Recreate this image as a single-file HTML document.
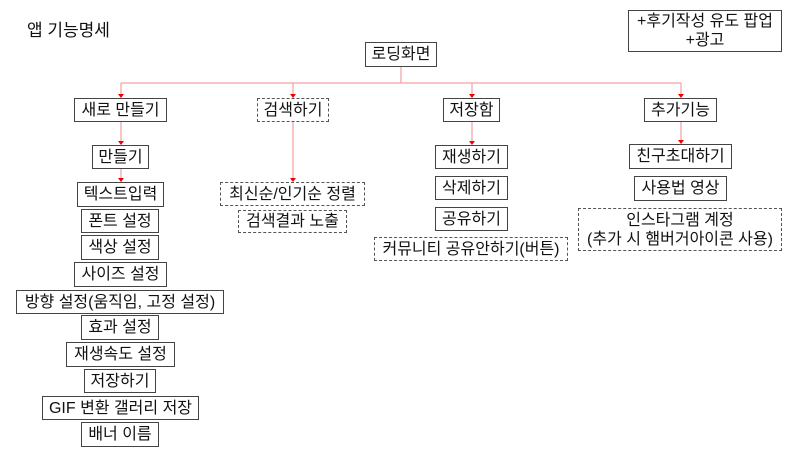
<!DOCTYPE html>
<html><head><meta charset="utf-8"><style>
body{margin:0;width:800px;height:450px;background:#fff;position:relative;overflow:hidden;font-family:"Liberation Sans","Noto Sans CJK KR",sans-serif;color:#111}
.b{position:absolute;box-sizing:border-box;border:1.3px solid #444;display:flex;align-items:center;justify-content:center;text-align:center;font-size:16px;line-height:19px;white-space:nowrap;background:#fff}
.d{border:1.3px dashed #555}
svg{position:absolute;left:0;top:0}
</style></head><body>
<div style="position:absolute;left:27px;top:16px;font-size:17px">앱 기능명세</div>
<svg width="800" height="450">
<g stroke="#f4a0a0" stroke-width="1.2" fill="none">
<path d="M401 67V83M121 83H681M121 83V96M293 83V96M472 83V96M681 83V96M121 122V143M121 169V180M293 122V180M472 122V143M681 122V142"/>
</g>
<g fill="#e00">
<path d="M118 94h6l-3 4z M290 94h6l-3 4z M469 94h6l-3 4z M678 94h6l-3 4z M118 141h6l-3 4z M118 178h6l-3 4z M290 178h6l-3 4z M469 141h6l-3 4z M678 140h6l-3 4z"/>
</g>
</svg>
<div class="b" style="left:365px;top:42px;width:72px;height:25px">로딩화면</div>
<div class="b" style="left:628px;top:10px;width:154px;height:42px">+후기작성 유도 팝업<br>+광고</div>
<div class="b" style="left:74px;top:98px;width:93px;height:24px">새로 만들기</div>
<div class="b d" style="left:257px;top:98px;width:72px;height:24px">검색하기</div>
<div class="b" style="left:443px;top:98px;width:57px;height:24px">저장함</div>
<div class="b" style="left:644px;top:98px;width:73px;height:24px">추가기능</div>
<div class="b" style="left:92px;top:145px;width:57px;height:24px">만들기</div>
<div class="b" style="left:77px;top:182px;width:87px;height:25px">텍스트입력</div>
<div class="b" style="left:81px;top:209px;width:78px;height:24px">폰트 설정</div>
<div class="b" style="left:81px;top:235px;width:78px;height:25px">색상 설정</div>
<div class="b" style="left:74px;top:262px;width:93px;height:25px">사이즈 설정</div>
<div class="b" style="left:16px;top:290px;width:208px;height:24px">방향 설정(움직임, 고정 설정)</div>
<div class="b" style="left:81px;top:315px;width:78px;height:25px">효과 설정</div>
<div class="b" style="left:66px;top:342px;width:109px;height:25px">재생속도 설정</div>
<div class="b" style="left:84px;top:369px;width:72px;height:24px">저장하기</div>
<div class="b" style="left:42px;top:396px;width:157px;height:24px">GIF 변환 갤러리 저장</div>
<div class="b" style="left:81px;top:422px;width:78px;height:25px">배너 이름</div>
<div class="b d" style="left:220px;top:182px;width:145px;height:24px">최신순/인기순 정렬</div>
<div class="b d" style="left:238px;top:210px;width:109px;height:23px">검색결과 노출</div>
<div class="b" style="left:435px;top:145px;width:73px;height:24px">재생하기</div>
<div class="b" style="left:435px;top:176px;width:73px;height:24px">삭제하기</div>
<div class="b" style="left:435px;top:207px;width:73px;height:24px">공유하기</div>
<div class="b d" style="left:374px;top:237px;width:194px;height:24px">커뮤니티 공유안하기(버튼)</div>
<div class="b" style="left:629px;top:144px;width:103px;height:25px">친구초대하기</div>
<div class="b" style="left:634px;top:176px;width:93px;height:25px">사용법 영상</div>
<div class="b d" style="left:578px;top:208px;width:204px;height:43px">인스타그램 계정<br>(추가 시 햄버거아이콘 사용)</div>
</body></html>
